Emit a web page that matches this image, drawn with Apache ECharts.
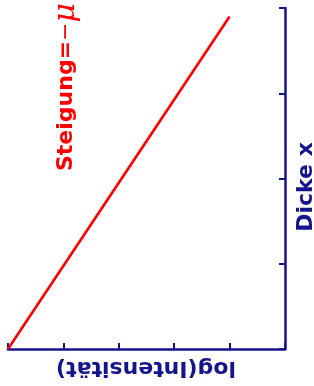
<!DOCTYPE html>
<html>
<head>
<meta charset="utf-8">
<script src="https://cdn.jsdelivr.net/npm/echarts@6/dist/echarts.min.js"></script>
<style>
  html, body { margin: 0; padding: 0; background: #fff; }
  #chart { width: 314px; height: 386px; }
</style>
</head>
<body>
<div id="chart"></div>
<script>
  // Achsen (ohne Beschriftungen, nur Striche)
  var xTicks = [0, 1, 2, 3, 4, 5];
  var yTicks = [0, 1, 2, 3, 4];
  // Gerade: Start- und Endpunkt
  var lineX = [0, 4.0];
  var lineY = [0, 3.9];

  var navy = '#14148e';
  var red = '#ff0000';

  var chart = echarts.init(document.getElementById('chart'));
  chart.setOption({
    animation: false,
    grid: { left: 8, right: 29, top: 8, bottom: 37 },
    xAxis: {
      type: 'value',
      min: xTicks[0],
      max: xTicks[xTicks.length - 1],
      interval: 1,
      axisLine: { show: true, onZero: false, lineStyle: { color: navy, width: 2.5 } },
      axisTick: { show: true, inside: true, length: 6, lineStyle: { color: navy, width: 2 } },
      axisLabel: { show: false },
      splitLine: { show: false }
    },
    yAxis: {
      type: 'value',
      position: 'right',
      min: yTicks[0],
      max: yTicks[yTicks.length - 1],
      interval: 1,
      axisLine: { show: true, onZero: false, lineStyle: { color: navy, width: 2.5 } },
      axisTick: { show: true, inside: true, length: 6, lineStyle: { color: navy, width: 2 } },
      axisLabel: { show: false },
      splitLine: { show: false }
    },
    graphic: [
      {
        type: 'text', x: 146, y: 368, rotation: Math.PI,
        style: {
          text: 'log(Intensität)', fill: navy,
          font: 'bold 22px "DejaVu Sans"', align: 'center', verticalAlign: 'middle'
        }
      },
      {
        type: 'text', x: 306, y: 187, rotation: Math.PI / 2,
        style: {
          text: 'Dicke x', fill: navy,
          font: 'bold 22px "DejaVu Sans"', align: 'center', verticalAlign: 'middle'
        }
      },
      {
        type: 'text', x: 66, y: 87, rotation: Math.PI / 2,
        style: {
          text: '{a|Steigung=}{b|−}{c|μ}', fill: red,
          align: 'center', verticalAlign: 'middle',
          rich: {
            a: { fontFamily: 'DejaVu Sans', fontWeight: 'bold', fontSize: 22, fill: red },
            b: { fontFamily: 'DejaVu Sans', fontSize: 22, fill: red },
            c: { fontFamily: 'DejaVu Serif', fontStyle: 'italic', fontSize: 30, fill: red }
          }
        }
      }
    ],
    series: [
      {
        type: 'line',
        data: lineX.map(function (x, i) { return [x, lineY[i]]; }),
        symbol: 'none',
        clip: false,
        lineStyle: { color: red, width: 2.6 }
      }
    ]
  });
</script>
</body>
</html>
